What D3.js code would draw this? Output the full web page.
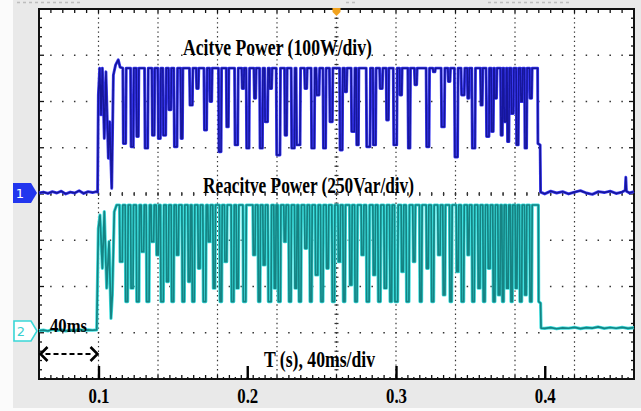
<!DOCTYPE html>
<html>
<head>
<meta charset="utf-8">
<script src="https://cdn.jsdelivr.net/npm/d3@7"></script>
<style>
  html, body { margin: 0; padding: 0; background: #fff; }
  svg { display: block; }
</style>
</head>
<body>
<svg id="scope" width="641" height="411"></svg>
<script>
// ---- time axis (ms) ----
const timeWindow = [60, 460];
const timeTicks = [100, 200, 300, 400];
const timeTickLabels = ["0.1", "0.2", "0.3", "0.4"];
const triggerTime = 260;

// ---- channel 1: active power (W), 100 W/div ----
const activeTop = 270;
const activePre = [[60,0],[63,2],[66,-1],[69,3],[72,0],[75,4],[78,-2],[81,2],[84,0],[87,5],[90,-1],[93,3],[96,1],[98.5,3],[99.4,2]];
const activeOnset = [[99.9,212],[100.8,270],[101.7,169],[102.6,270],[103.9,118],[105.0,262],[106.6,75],[107.5,154],[108.9,10],[110.0,255],[111.5,277],[113.3,288],[114.5,272]];
// each dip: [start ms, end ms, lowest W]
const activeDips = [
  [116.7,118.3,107],[121.9,123.4,100],[125.7,126.8,122],[131.3,133.1,97],[136.2,137.5,125],
  [140.2,141.6,118],[143.6,145.2,125],[147.4,148.7,180],[151.0,152.8,100],[155.5,156.4,118],
  [161.5,163.1,190],[166.0,167.1,226],[171.2,172.7,136],[175.0,176.1,198],[181.0,182.4,89],
  [186.2,187.3,143],[191.8,193.6,104],[196.6,197.6,226],[199.6,201.2,97],[204.8,205.7,205],
  [208.6,210.2,97],[212.0,213.7,154],[215.3,216.4,226],[219.8,222.0,82],[225.4,226.5,125],
  [229.9,231.7,97],[233.2,235.5,104],[238.8,240.0,226],[243.3,245.1,97],[246.7,248.3,212],
  [251.2,252.7,97],[255.6,257.2,154],[262.4,263.9,93],[265.7,266.8,219],[270.2,272.0,133],
  [273.6,274.7,104],[280.3,282.5,100],[284.8,286.3,104],[289.3,290.8,226],[293.7,294.9,158],
  [298.5,300.5,104],[302.7,303.8,212],[308.3,309.4,97],[312.7,313.9,234],[320.6,322.2,100],
  [325.1,326.2,262],[330.7,332.5,143],[335.2,336.3,241],[339.6,341.4,78],[344.1,345.9,212],
  [348.2,349.0,205],[351.3,353.1,97],[357.1,358.0,190],[360.9,362.5,122],[364.3,365.4,133],
  [366.5,367.6,205],[370.6,371.5,125],[372.8,373.9,154],[375.0,375.9,111],[377.7,378.9,172],
  [381.1,382.2,104],[384.0,384.9,198],[386.7,387.8,97],[390.1,391.2,205]
];
const activeEnd = [[395.2,270],[395.4,107],[396.9,104],[397.2,2]];
const activeTail = [[400,-2],[404,4],[408,0],[412,3],[416,-2],[420,2],[424,5],[428,0],[432,-3],[436,3],[440,1],[444,4],[448,-1],[452,2],[454.1,6],[454.5,34],[454.9,4],[457,0],[460,3]];

// ---- channel 2: reactive power (Var), 250 Var/div ----
const reactiveTop = 681;
const reactivePre = [[60,2],[63,5],[66,0],[69,8],[72,3],[75,6],[78,0],[81,5],[84,2],[87,8],[90,3],[93,6],[96,4],[98.8,6]];
const reactiveOnset = [[99.9,555],[101.0,627],[102.6,339],[103.9,645],[105.5,231],[107.1,483],[108.4,68],[109.3,195],[110.6,645],[112.2,681]];
const reactiveDips = [
  [114.5,116.0,375],[118.3,119.6,159],[121.9,123.2,231],[125.7,127.2,159],[129.0,130.4,429],
  [132.4,134.0,159],[135.7,137.1,483],[139.1,140.2,411],[142.0,143.6,159],[145.8,147.0,267],
  [149.2,150.5,159],[152.6,153.7,411],[156.4,157.7,159],[160.4,161.5,267],[163.1,164.4,159],
  [167.1,168.2,339],[170.5,172.1,159],[173.8,175.0,483],[177.2,178.3,231],[181.7,182.8,159],
  [185.0,186.2,375],[189.5,190.9,159],[192.9,194.0,231],[197.4,199.0,159],[204.1,205.2,411],
  [207.5,208.6,159],[210.8,211.9,357],[214.2,216.0,159],[218.2,219.1,231],[220.9,222.3,159],
  [224.9,225.8,483],[228.1,229.4,159],[232.1,233.2,231],[234.8,236.1,159],[238.8,240.0,447],
  [242.2,243.3,159],[246.0,247.4,303],[249.6,250.9,159],[253.4,254.5,339],[257.2,258.6,159],
  [261.3,262.4,375],[264.6,265.7,159],[269.1,270.2,249],[272.5,273.8,159],[276.9,278.1,411],
  [280.3,281.9,159],[284.8,285.9,303],[288.1,289.5,159],[292.2,293.5,231],[296.0,297.1,159],
  [299.3,301.1,159],[303.8,304.9,321],[307.1,308.7,159],[311.6,312.7,375],[316.1,317.2,159],
  [320.6,321.7,339],[324.0,325.3,159],[328.4,329.6,411],[331.8,332.9,195],[336.3,337.4,159],
  [340.8,341.9,321],[344.1,345.5,159],[348.2,349.0,411],[351.3,352.6,159],[355.3,356.4,231],
  [358.7,359.8,159],[362.0,363.2,339],[365.4,366.5,159],[368.8,369.9,195],[371.5,372.4,159],
  [374.4,375.5,231],[377.3,378.2,159],[380.4,381.3,231],[383.3,384.5,159],[386.7,387.6,195],
  [390.1,391.2,159]
];
const reactiveEnd = [[395.7,681],[395.9,159],[397.2,150],[397.5,16]];
const reactiveTail = [[400,14],[404,18],[408,12],[412,17],[416,15],[420,20],[424,13],[428,18],[432,16],[436,22],[440,14],[444,19],[448,15],[452,20],[456,14],[460,18]];

// ---- layout ----
const svg = d3.select("#scope");
const frame = { left: 39, right: 634, top: 9, bottom: 379 };
const divsX = 10, divsY = 8;
const divW = (frame.right - frame.left) / divsX;
const divH = (frame.bottom - frame.top) / divsY;
const zero1 = 193, zero2 = 331;

const x = d3.scaleLinear().domain(timeWindow).range([frame.left, frame.right]);
const yP = d3.scaleLinear().domain([0, 100]).range([zero1, zero1 - divH]);
const yQ = d3.scaleLinear().domain([0, 250]).range([zero2, zero2 - divH]);

const defs = svg.append("defs");
defs.append("filter").attr("id", "soft").attr("x", "-2%").attr("y", "-2%").attr("width", "104%").attr("height", "104%")
  .append("feGaussianBlur").attr("stdDeviation", 0.35);

// backdrop
svg.append("rect").attr("width", 641).attr("height", 411).attr("fill", "#fbfbfb");
svg.append("rect").attr("x", 13).attr("y", 0).attr("width", 628).attr("height", 408).attr("fill", "#e9e9e9");
svg.append("rect").attr("x", frame.left).attr("y", frame.top)
  .attr("width", frame.right - frame.left).attr("height", frame.bottom - frame.top).attr("fill", "#fff");

// faint clipped header readouts
const hdr = svg.append("g").attr("stroke", "#bdbdbd").attr("stroke-width", 1.6).attr("stroke-dasharray", "3 3");
[[17, 80], [346, 358], [488, 572]].forEach(([a, b]) =>
  hdr.append("line").attr("x1", a).attr("x2", b).attr("y1", 2.5).attr("y2", 2.5));

// graticule
const grid = svg.append("g");
d3.range(1, divsX).forEach(i => {
  const gx = frame.left + i * divW;
  grid.append("line").attr("x1", gx).attr("x2", gx).attr("y1", frame.top).attr("y2", frame.bottom)
    .attr("stroke", "#333").attr("stroke-width", 1.2)
    .attr("stroke-dasharray", `1.3 ${divH / 10 - 1.3}`).attr("stroke-dashoffset", 0.65);
});
d3.range(1, divsY).forEach(j => {
  const gy = frame.top + j * divH;
  grid.append("line").attr("x1", frame.left).attr("x2", frame.right).attr("y1", gy).attr("y2", gy)
    .attr("stroke", "#333").attr("stroke-width", 1.5)
    .attr("stroke-dasharray", `1.5 ${divW / 5 - 1.5}`).attr("stroke-dashoffset", 0.75);
});
// centre cross rulers
const cx = frame.left + 5 * divW, cy = frame.top + 4 * divH;
d3.range(1, divsY * 5).forEach(k => {
  const ty = frame.top + k * divH / 5;
  grid.append("line").attr("x1", cx - 2).attr("x2", cx + 2).attr("y1", ty).attr("y2", ty)
    .attr("stroke", "#333").attr("stroke-width", 1.2);
});
d3.range(1, divsX * 5).forEach(k => {
  const tx = frame.left + k * divW / 5;
  grid.append("line").attr("x1", tx).attr("x2", tx).attr("y1", cy - 2).attr("y2", cy + 2)
    .attr("stroke", "#333").attr("stroke-width", 1.2);
});

// frame with edge ticks
const edge = svg.append("g").attr("stroke", "#111");
d3.range(1, divsX * 10).forEach(k => {
  const tx = frame.left + k * divW / 10;
  const len = k % 2 === 0 ? 4 : 2;
  if (k % 2 === 0) {
    edge.append("line").attr("x1", tx).attr("x2", tx).attr("y1", frame.top).attr("y2", frame.top + 4).attr("stroke-width", 1.3);
  }
  edge.append("line").attr("x1", tx).attr("x2", tx).attr("y1", frame.bottom).attr("y2", frame.bottom - len)
    .attr("stroke-width", 1.3);
});
d3.range(1, divsY * 5).forEach(k => {
  const ty = frame.top + k * divH / 5;
  const len = k % 5 === 0 ? 5 : 3;
  edge.append("line").attr("x1", frame.left).attr("x2", frame.left + len).attr("y1", ty).attr("y2", ty).attr("stroke-width", 1.3);
  edge.append("line").attr("x1", frame.right).attr("x2", frame.right - len).attr("y1", ty).attr("y2", ty).attr("stroke-width", 1.3);
});
svg.append("rect").attr("x", frame.left).attr("y", frame.top)
  .attr("width", frame.right - frame.left).attr("height", frame.bottom - frame.top)
  .attr("fill", "none").attr("stroke", "#111").attr("stroke-width", 2);

// time axis
const axis = svg.append("g").attr("transform", `translate(0,${frame.bottom})`)
  .call(d3.axisBottom(x).tickValues(timeTicks).tickFormat((d, i) => timeTickLabels[i])
    .tickSizeInner(-13).tickSizeOuter(0).tickPadding(8));
axis.select(".domain").remove();
axis.selectAll(".tick line").attr("stroke", "#000").attr("stroke-width", 2.4);
axis.selectAll(".tick text")
  .attr("fill", "#000").attr("font-family", "'Liberation Serif', 'Times New Roman', serif")
  .attr("font-weight", "bold").attr("font-size", 22)
  .attr("textLength", 21).attr("lengthAdjust", "spacingAndGlyphs");

// traces: hold the top level between dips, with a short sloped edge into and out of each dip
const edgeMs = 0.35;
function buildTrace(pre, onset, top, dips, end, tail) {
  const pts = [...pre, ...onset];
  dips.forEach(([a, b, lo]) => { pts.push([a - edgeMs, top], [a, lo], [b, lo], [b + edgeMs, top]); });
  return pts.concat(end, tail);
}
const activeSeries = buildTrace(activePre, activeOnset, activeTop, activeDips, activeEnd, activeTail);
const reactiveSeries = buildTrace(reactivePre, reactiveOnset, reactiveTop, reactiveDips, reactiveEnd, reactiveTail);

const lineP = d3.line().x(d => x(d[0])).y(d => yP(d[1]));
const lineQ = d3.line().x(d => x(d[0])).y(d => yQ(d[1]));

const traces = svg.append("g").attr("fill", "none").attr("stroke-linejoin", "round").attr("filter", "url(#soft)");
traces.append("path").attr("d", lineQ(reactiveSeries)).attr("stroke", "#3fe0e0").attr("stroke-width", 3.2);
traces.append("path").attr("d", lineQ(reactiveSeries)).attr("stroke", "#148383").attr("stroke-width", 1.7);
traces.append("path").attr("d", lineP(activeSeries)).attr("stroke", "#3a3af2").attr("stroke-width", 2.9);
traces.append("path").attr("d", lineP(activeSeries)).attr("stroke", "#16169a").attr("stroke-width", 1.5);

// channel markers
const m1 = svg.append("g").attr("transform", `translate(0,${yP(0)})`);
m1.append("path").attr("d", "M13,-10H31L37,0L31,10H13Z").attr("fill", "#2236ee");
m1.append("text").attr("x", 20).attr("y", 5).attr("text-anchor", "middle")
  .attr("font-family", "'DejaVu Sans', sans-serif").attr("font-size", 13).attr("fill", "#fff").text("1");
const m2 = svg.append("g").attr("transform", `translate(0,${yQ(0)})`);
m2.append("path").attr("d", "M14,-10H31L37,0L31,10H14Z").attr("fill", "#fff").attr("stroke", "#3ad8d8").attr("stroke-width", 1.6);
m2.append("text").attr("x", 21).attr("y", 5).attr("text-anchor", "middle")
  .attr("font-family", "'DejaVu Sans', sans-serif").attr("font-size", 13).attr("fill", "#3ad0d0").text("2");

// trigger position marker
const tx = x(triggerTime);
svg.append("path").attr("d", `M${tx - 4},${frame.top - 1}H${tx + 4}V${frame.top + 3}L${tx},${frame.top + 7}L${tx - 4},${frame.top + 3}Z`)
  .attr("fill", "#f2a31f");

// annotations
const serif = "'Liberation Serif', 'Times New Roman', serif";
function label(str, lx, ly, size, len) {
  svg.append("text").attr("x", lx).attr("y", ly).attr("font-family", serif)
    .attr("font-weight", "bold").attr("font-size", size).attr("fill", "#000")
    .attr("textLength", len).attr("lengthAdjust", "spacingAndGlyphs").text(str);
}
label("Acitve Power (100W/div)", 183, 55, 23, 189);
label("Reacitve Power (250Var/div)", 203, 193, 24, 211);
label("T (s), 40ms/div", 264, 367, 23, 111);
label("40ms", 50, 332, 18, 37);

// one-division span arrow
const ay = 354, ax0 = x(timeWindow[0]) + 1.5, ax1 = x(timeTicks[0]) - 1;
const arrow = svg.append("g").attr("stroke", "#000").attr("fill", "none");
arrow.append("line").attr("x1", ax0 + 5).attr("x2", ax1 - 5).attr("y1", ay).attr("y2", ay)
  .attr("stroke-width", 2.2).attr("stroke-dasharray", "5 3");
arrow.append("path").attr("d", `M${ax0 + 7},${ay - 7}L${ax0},${ay}L${ax0 + 7},${ay + 7}`).attr("stroke-width", 2.6);
arrow.append("path").attr("d", `M${ax1 - 7},${ay - 7}L${ax1},${ay}L${ax1 - 7},${ay + 7}`).attr("stroke-width", 2.6);
</script>
</body>
</html>
